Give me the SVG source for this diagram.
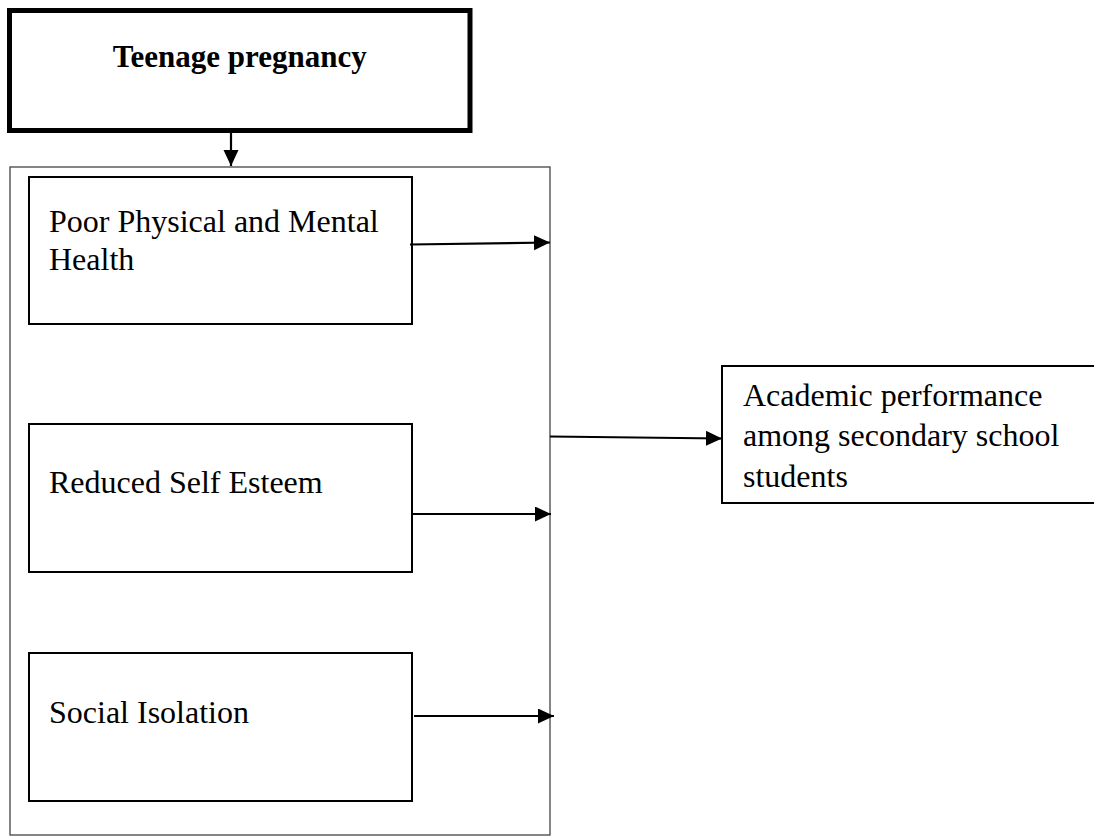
<svg xmlns="http://www.w3.org/2000/svg" width="1094" height="836" viewBox="0 0 1094 836">
<style>
.box{fill:#fff;stroke:#000;stroke-width:2}
.outer{fill:none;stroke:#444;stroke-width:1.3}
.thick{fill:#fff;stroke:#000;stroke-width:5}
.t{font-family:"Liberation Serif","Times New Roman",serif;font-size:32px;fill:#000}
.tb{font-family:"Liberation Serif","Times New Roman",serif;font-size:31px;font-weight:bold;fill:#000}
.c{stroke:#000;stroke-width:2.2;fill:none}
</style>
<defs>
<marker id="ah" markerUnits="userSpaceOnUse" markerWidth="16" markerHeight="16" refX="16" refY="7.5" orient="auto">
<path d="M0,0 L16,7.5 L0,15 z" fill="#000"/>
</marker>
</defs>
<rect width="1094" height="836" fill="#fff"/>
<g id="outer-group">
<rect class="outer" x="10" y="167" width="540" height="668"/>
</g>
<g id="teenage-pregnancy">
<rect class="thick" x="9.5" y="10.5" width="460.5" height="120"/>
<text class="tb" x="239.75" y="67" text-anchor="middle">Teenage pregnancy</text>
</g>
<g id="poor-health">
<rect class="box" x="29" y="177" width="383" height="147"/>
<text class="t" x="49" y="232">Poor Physical and Mental</text>
<text class="t" x="49" y="270">Health</text>
</g>
<g id="self-esteem">
<rect class="box" x="29" y="424" width="383" height="148"/>
<text class="t" x="49" y="493">Reduced Self Esteem</text>
</g>
<g id="social-isolation">
<rect class="box" x="29" y="653" width="383" height="148"/>
<text class="t" x="49" y="723">Social Isolation</text>
</g>
<g id="academic-performance">
<rect class="box" x="722" y="366" width="380" height="137"/>
<text class="t" x="743" y="406">Academic performance</text>
<text class="t" x="743" y="446">among secondary school</text>
<text class="t" x="743" y="487">students</text>
</g>
<g id="connectors">
<line class="c" x1="231" y1="133" x2="231" y2="166" marker-end="url(#ah)"/>
<line class="c" x1="410" y1="244.5" x2="550" y2="242.5" marker-end="url(#ah)"/>
<line class="c" x1="412" y1="514" x2="551" y2="514" marker-end="url(#ah)"/>
<line class="c" x1="414" y1="716" x2="554" y2="716" marker-end="url(#ah)"/>
<line class="c" x1="550" y1="436.5" x2="722" y2="438.5" marker-end="url(#ah)"/>
</g>
</svg>
